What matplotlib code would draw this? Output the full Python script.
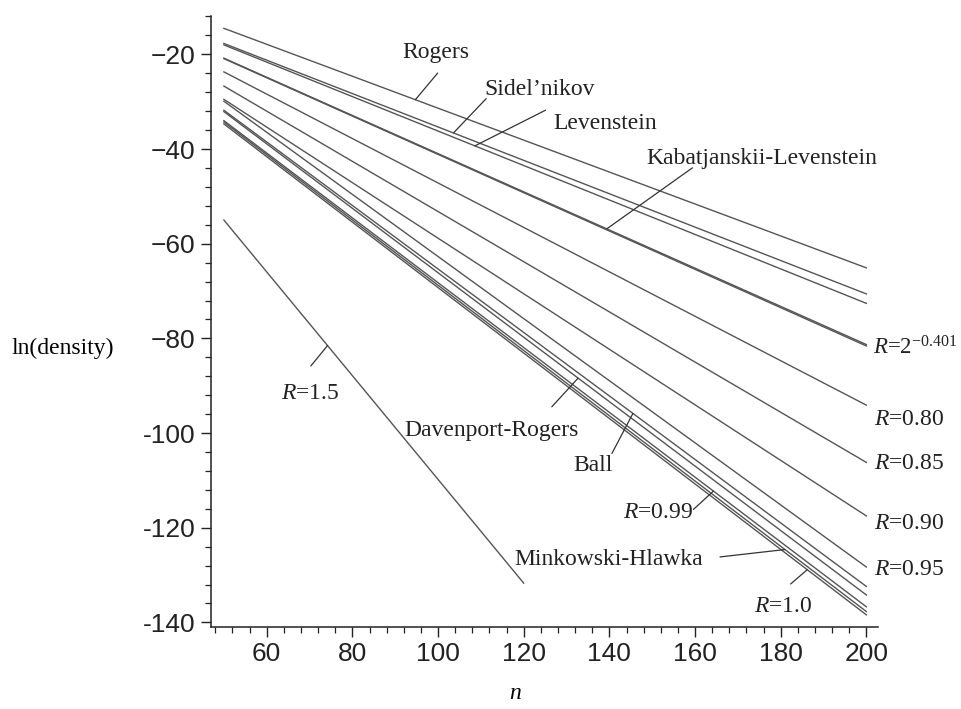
import matplotlib
matplotlib.use("Agg")
import matplotlib.pyplot as plt
import numpy as np

# dimension n at the two ends of every bound
n_ends = [50, 200]
n_ends_r15 = [50, 120]

# ln(density) at the line ends
rogers = [-14.5, -65.1]
sidelnikov = [-17.7, -70.6]
levenstein = [-18.0, -72.6]
kab_lev = [-20.8, -81.3]
r_0401 = [-20.9, -81.6]
r_080 = [-23.7, -94.1]
r_085 = [-26.7, -106.2]
r_090 = [-29.5, -117.5]
r_095 = [-29.9, -128.3]
ball = [-31.8, -132.4]
dav_rog = [-32.1, -134.2]
r_099 = [-34.0, -136.7]
mink_hl = [-34.3, -137.7]
r_100 = [-34.7, -138.4]
r_150 = [-55.0, -131.7]

x_ticks = [60, 80, 100, 120, 140, 160, 180, 200]
y_ticks = [-20, -40, -60, -80, -100, -120, -140]
y_ticklabels = ["\u221220", "\u221240", "\u221260", "\u221280", "-100", "-120", "-140"]

plt.rcParams["mathtext.fontset"] = "custom"
plt.rcParams["mathtext.rm"] = "Liberation Serif"
plt.rcParams["mathtext.it"] = "Liberation Serif:italic"

serif = "Liberation Serif"
tick_font = ["Liberation Sans Narrow", "Liberation Sans"]
lab_size = 17
line_col = "#555555"

fig = plt.figure(figsize=(9.61, 7.09), dpi=100)
ax = fig.add_axes([0.2196, 0.1161, 0.6944, 0.8613])

series = [rogers, sidelnikov, levenstein, kab_lev, r_0401, r_080, r_085,
          r_090, r_095, ball, dav_rog, r_099, mink_hl, r_100]
for s in series:
    ax.plot(n_ends, s, color=line_col, lw=1.0)
ax.plot(n_ends_r15, r_150, color=line_col, lw=1.0)

ax.set_xlim(47.0, 202.8)
ax.set_ylim(-140.9, -11.9)

for side in ["top", "right"]:
    ax.spines[side].set_visible(False)
for side in ["left", "bottom"]:
    ax.spines[side].set_color("#222222")
    ax.spines[side].set_linewidth(1.1)

ax.set_xticks(x_ticks)
ax.set_xticklabels([str(v) for v in x_ticks])
ax.set_xticks(np.arange(48, 203, 4), minor=True)
ax.set_yticks(y_ticks)
ax.set_yticklabels(y_ticklabels)
ax.set_yticks(np.arange(-140, -11, 4), minor=True)
ax.tick_params(which="major", direction="out", length=7, width=1.0, color="#222222", pad=4)
ax.tick_params(which="minor", direction="out", length=4, width=0.9, color="#222222")
for lab in ax.get_xticklabels() + ax.get_yticklabels():
    lab.set_family(tick_font)
    lab.set_fontsize(19)
    lab.set_color("#222222")

ax.set_ylabel("ln(density)", family=serif, fontsize=lab_size, rotation=0,
              ha="center", va="center")
ax.yaxis.set_label_coords(-0.223, 0.456)
ax.set_xlabel("$n$", fontsize=lab_size)
ax.xaxis.set_label_coords(0.456, -0.088)


def pointer(ns, vals, n_at, dx, dy):
    v = np.interp(n_at, ns, vals)
    ax.annotate("", xy=(n_at, v), xytext=(dx, dy), textcoords="offset pixels",
                arrowprops=dict(arrowstyle="-", color="#333333", lw=0.9,
                                shrinkA=0, shrinkB=0))


def label(n, v, txt, ha="center", size=lab_size):
    ax.text(n, v, txt, family=serif, fontsize=size, ha=ha, va="center",
            color="#222222", clip_on=False)


label(99.5, -19.7, "Rogers")
pointer(n_ends, rogers, 94.7, 22.3, 26.6)
label(123.6, -27.4, "Sidel\u2019nikov")
pointer(n_ends, sidelnikov, 103.6, 32.7, 34.3)
label(139.1, -34.6, "Levenstein")
pointer(n_ends, levenstein, 108.6, 70.7, 35.7)
label(175.6, -42.0, "Kabatjanskii-Levenstein")
pointer(n_ends, kab_lev, 139.4, 85.6, 61.0)

label(201.6, -82.1, r"$R$=2$^{-0.401}$", ha="left", size=16.5)
label(201.8, -97.1, r"$R$=0.80", ha="left")
label(201.8, -106.4, r"$R$=0.85", ha="left")
label(201.8, -119.0, r"$R$=0.90", ha="left")
label(201.8, -128.9, r"$R$=0.95", ha="left")

label(112.4, -99.4, "Davenport-Rogers")
pointer(n_ends, dav_rog, 132.7, -26.3, -28.7)
label(136.2, -106.8, "Ball")
pointer(n_ends, ball, 145.5, -21.0, -40.0)
label(151.4, -116.7, r"$R$=0.99")
pointer(n_ends, r_099, 164.3, -20.0, -18.3)
label(139.9, -126.8, "Minkowski-Hlawka")
pointer(n_ends, mink_hl, 181.0, -65.0, -7.4)
label(180.5, -136.7, r"$R$=1.0")
pointer(n_ends, r_100, 186.2, -16.6, -14.3)
label(70.1, -91.6, r"$R$=1.5")
pointer(n_ends_r15, r_150, 74.2, -16.7, -20.4)

fig.savefig("out.png", dpi=100)
